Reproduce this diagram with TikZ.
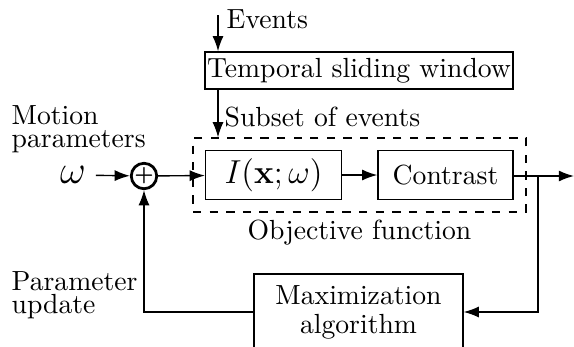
\documentclass[tikz,border=0pt]{standalone}
\usetikzlibrary{arrows.meta,positioning}
\tikzset{
  blk/.style={draw, rectangle, inner sep=0pt, align=center},
  arr/.style={-{Latex[length=5.5pt,width=4pt]}},
  lbl/.style={inner sep=0pt, align=left, anchor=west},
}
\begin{document}
\begin{tikzpicture}[x=0.3614pt, y=-0.3614pt, line width=0.5pt]
  \useasboundingbox (0,0) rectangle (574,346);
  % blocks
  \node[blk, minimum width=111.3pt, minimum height=13.4pt] (tsw) at (359,70.5) {Temporal sliding window};
  \node[blk, minimum width=49.1pt, minimum height=17.7pt, font=\large] (img) at (273.5,175) {$I(\mathbf{x};\omega)$};
  \node[blk, minimum width=48.8pt, minimum height=17.7pt] (con) at (445.5,175) {Contrast};
  \node[blk, minimum width=75.5pt, minimum height=27.5pt] (max) at (358.5,312) {Maximization\\[-1.5pt]algorithm};
  \node[draw, dashed, inner sep=0pt, minimum width=120.3pt, minimum height=26.7pt] (obj) at (359.5,175) {};
  \node[draw, circle, line width=1pt, minimum size=8.4pt, inner sep=0pt, font=\scriptsize\bfseries] (sum) at (144,176) {+};
  \node[below=-0.8pt of obj] (objl) {Objective function};
  \node (om) at (73,175) {\Large $\omega$};
  % labels
  \node[lbl] (evl) at (226,19) {Events};
  \node[lbl] (sub) at (224,117) {Subset of events};
  \node[lbl] (mp) at (11,129) {Motion\\[-3.5pt]parameters};
  \node[lbl] (pu) at (11,295) {Parameter\\[-3.5pt]update};
  % connectors
  \coordinate (ev) at (218,15);
  \coordinate (br) at (538,176);
  \coordinate (out) at (574,176);
  \draw[arr] (ev) -- (ev |- tsw.north);
  \draw[arr] (ev |- tsw.south) -- (ev |- obj.north);
  \draw[arr] (om) -- (sum);
  \draw[arr] (sum) -- (img);
  \draw[arr] (img) -- (con);
  \draw[arr] (con.east |- out) -- (out);
  \draw[arr] (br) |- (max);
  \draw[arr] (max) -| (sum);
\end{tikzpicture}
\end{document}
